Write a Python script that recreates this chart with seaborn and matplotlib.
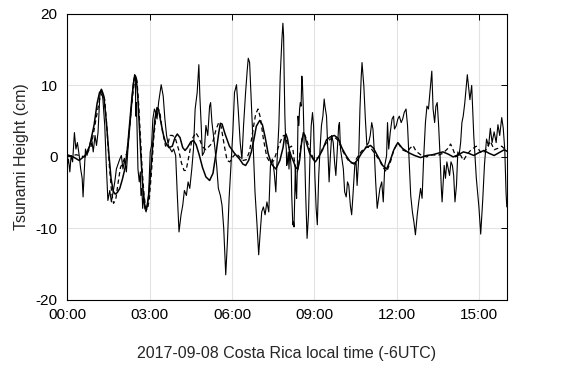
import numpy as np
import pandas as pd
import seaborn as sns
import matplotlib
matplotlib.use("Agg")
import matplotlib.pyplot as plt
from matplotlib.ticker import FuncFormatter, MultipleLocator

# observed record (read-off time in hours, cm)
obs_t = [0.0, 0.04, 0.087, 0.13, 0.18, 0.24, 0.29, 0.34, 0.40, 0.45, 0.50, 0.53, 0.58, 0.61, 0.66,
         0.72, 0.77, 0.82, 0.87, 0.93, 0.98, 1.03, 1.09, 1.14, 1.19, 1.25, 1.30, 1.35, 1.41, 1.46,
         1.51, 1.57, 1.62, 1.73, 1.78, 1.83, 1.885, 1.94, 1.99, 2.045, 2.10, 2.15, 2.20, 2.236,
         2.26, 2.29, 2.33, 2.36, 2.42, 2.47, 2.50, 2.545, 2.58, 2.63, 2.68, 2.74, 2.79, 2.84, 2.90,
         2.95, 3.00, 3.06, 3.11, 3.16, 3.22, 3.27, 3.32, 3.38, 3.43, 3.48, 3.535, 3.59, 3.64, 3.69,
         3.75, 3.80, 3.85, 3.91, 3.96, 4.01, 4.07, 4.12, 4.17, 4.23, 4.28, 4.33, 4.39, 4.44, 4.47,
         4.51, 4.545, 4.60, 4.65, 4.705, 4.76, 4.79, 4.83, 4.90, 4.97, 5.02, 5.08, 5.13, 5.18, 5.24,
         5.29, 5.34, 5.40, 5.45, 5.50, 5.56, 5.61, 5.67, 5.72, 5.77, 5.83, 5.88, 5.91, 5.95, 6.01,
         6.06, 6.11, 6.17, 6.22, 6.26, 6.31, 6.36, 6.41, 6.465, 6.52, 6.57, 6.625, 6.68, 6.73, 6.76,
         6.82, 6.86, 6.91, 6.94, 6.99, 7.03, 7.08, 7.14, 7.18, 7.21, 7.26, 7.32, 7.37, 7.42, 7.48,
         7.53, 7.565, 7.61, 7.64, 7.69, 7.725, 7.78, 7.82, 7.86, 7.91, 7.96, 8.01, 8.07, 8.12, 8.17,
         8.225, 8.28, 8.33, 8.385, 8.44, 8.49, 8.545, 8.60, 8.65, 8.705, 8.76, 8.81, 8.86, 8.90,
         8.95, 9.00, 9.045, 9.10, 9.15, 9.205, 9.26, 9.31, 9.34, 9.40, 9.44, 9.50, 9.55, 9.60, 9.66,
         9.71, 9.76, 9.82, 9.87, 9.90, 9.94, 9.995, 10.05, 10.10, 10.16, 10.21, 10.26, 10.32, 10.37,
         10.42, 10.49, 10.54, 10.58, 10.64, 10.69, 10.74, 10.77, 10.83, 10.88, 10.93, 10.99, 11.04,
         11.09, 11.13, 11.17, 11.22, 11.27, 11.36, 11.42, 11.47, 11.52, 11.58, 11.61, 11.65, 11.70,
         11.76, 11.81, 11.84, 11.90, 11.95, 12.00, 12.06, 12.11, 12.16, 12.22, 12.27, 12.32, 12.375,
         12.43, 12.48, 12.53, 12.59, 12.64, 12.70, 12.75, 12.80, 12.86, 12.91, 12.96, 13.02, 13.07,
         13.12, 13.18, 13.23, 13.28, 13.335, 13.39, 13.44, 13.47, 13.52, 13.55, 13.60, 13.655,
         13.71, 13.76, 13.815, 13.87, 13.92, 13.97, 14.03, 14.08, 14.13, 14.19, 14.24, 14.29, 14.35,
         14.45, 14.55, 14.62, 14.70, 14.80, 14.90, 14.97, 15.05, 15.12, 15.20, 15.28, 15.35, 15.42,
         15.50, 15.58, 15.65, 15.72, 15.80, 15.86, 15.92, 15.97, 16.0]
obs_h = [-1.2, -0.3, -2.1, 0.2, -0.7, 3.4, 1.1, 2.0, 0.2, -1.7, -3.0, -5.6, -1.2, 1.1, 0.2,
         1.1, 2.0, 2.5, 0.7, 3.0, 1.6, 3.4, 8.5, 9.5, 8.1, 4.4, -1.2, -6.1, -4.7, -6.3,
         -5.1, -3.5, -1.7, -0.3, 0.2, -1.7, -0.3, -2.1, 1.1, 3.9, 6.7, 9.9, 11.5, 11.3,
         5.7, 7.6, 2.0, -1.7, -3.5, -2.1, -5.4, -4.4, -7.2, -5.4, -7.2, -7.7, -6.8, -4.9, 0.7,
         1.6, 5.3, 6.7, 6.2, 5.3, 7.6, 8.8, 10.1, 8.5, 5.3, 3.0, 1.6, 1.1, 0.7, 1.1,
         0.2, -5.4, -10.5, -8.1, -6.8, -4.7, -5.4, -3.5, -4.4, -1.7, 1.1, 6.7, 9.0, 12.9, 8.5,
         4.4, 0.2, 0.7, 4.4, 3.0, 7.1, 7.6, 4.8, 2.0, -1.2, -4.4, -5.4, -6.8, -10.0, -16.5,
         -11.8, -5.8, -0.7, 3.4, 9.0, 10.1, 6.7, 2.0, -0.3, 4.4, 9.0, 12.2, 13.8, 13.2, 6.7,
         1.1, -4.9, -9.5, -13.7, -10.9, -7.7, -7.0, -8.1, -6.3, -7.7, -1.2, -0.3, -2.1, -4.9, -1.2,
         4.4, 11.3, 16.4, 18.7, 16.9, 11.3, 5.7, 2.0, 1.1, -1.2, -0.7, 0.7, -1.7, 0.7, -0.3,
         -1.7, -5.4, -8.1, -9.5, -9.1, -9.8, -5.4, -1.2, -4.4, -5.8, -1.7, 5.7, 4.4, 6.7, 7.6,
         7.1, 11.3, 9.9, 6.7, 2.0, -0.3, -4.9, -8.1, -11.4, -8.1, -0.3, 4.4, 6.2, 4.4,
         -2.6, -7.2, -9.5, -2.6, 1.1, 4.4, 5.7, 8.1, 7.1, 5.7, 2.0, -3.5, 0.2, 3.0, 2.0,
         -0.7, -2.6, 1.1, 4.4, 4.8, 1.1, -0.3, -1.7, -4.9, -5.6, -3.5, -4.0, -6.8, -8.1,
         -5.4, -1.2, -0.7, -4.0, -0.3, 6.7, 11.3, 13.2, 9.9, 5.3, 1.6, 2.0, 3.0,
         4.8, 3.9, 1.1, -3.5, -7.2, -4.4, -3.5, -6.3, -1.2, 0.2, 4.8, 1.1, 3.4,
         5.3, 5.7, 3.9, 4.4, 5.3, 5.7, 4.8, 5.3, 6.2, 6.7, 4.4, -0.3, -5.4,
         -7.7, -9.1, -10.9, -8.1, -6.3, -4.4, -5.8, -0.3, 4.8, 7.1, 6.7, 9.5, 12.0,
         6.7, 4.8, 7.1, 7.6, 4.4, 0.2, -4.4, -6.3, -3.0, -1.2, -3.0, -0.7,
         -1.7, -2.6, -0.7, -1.2, -2.6, -6.3, -3.9, 0.7, 0.2, 2.0, 4.8, 5.7, 7.5,
         11.5, 8.0, 10.0, 3.0, -3.0, -7.0, -10.8, -6.0, -1.0, 2.5, 1.5, 4.0, 2.0,
         3.5, 2.0, 4.5, 3.0, 5.5, 4.0, 1.0, -5.0, -7.0]

# model 1 (solid)
sol_t = [0.0, 0.2, 0.4, 0.6, 0.75, 0.9, 1.0, 1.08, 1.15, 1.22, 1.3, 1.38, 1.45, 1.52, 1.58, 1.65,
         1.73, 1.82, 1.9, 1.98, 2.05, 2.12, 2.18, 2.23, 2.28, 2.35, 2.42, 2.5, 2.58, 2.65, 2.71,
         2.77, 2.84, 2.92, 3.0, 3.08, 3.16, 3.22, 3.3, 3.38, 3.45, 3.55, 3.65, 3.73, 3.8, 3.88,
         3.96, 4.03, 4.1, 4.2, 4.28, 4.36, 4.45, 4.55, 4.65, 4.76, 4.86, 4.96, 5.03, 5.08, 5.13,
         5.22, 5.35, 5.5, 5.65, 5.75, 5.83, 5.92, 6.0, 6.08, 6.15, 6.25, 6.33, 6.41, 6.5, 6.6,
         6.73, 6.85, 6.95, 7.05, 7.16, 7.27, 7.4, 7.55, 7.7, 7.85, 8.0, 8.12, 8.25, 8.39, 8.5,
         8.6, 8.75, 8.9, 8.97, 9.1, 9.25, 9.4, 9.55, 9.7, 9.85, 10.0, 10.15, 10.3, 10.46, 10.6,
         10.75, 10.9, 11.05, 11.15, 11.3, 11.45, 11.58, 11.7, 11.82, 11.95, 12.1, 12.3, 12.5,
         12.7, 12.9, 13.1, 13.3, 13.5, 13.7, 13.9, 14.1, 14.3, 14.5, 14.7, 14.9, 15.1, 15.3,
         15.5, 15.7, 15.9, 16.0]
sol_h = [0.3, 0.0, -0.5, 0.2, 1.5, 4.5, 7.5, 9.0, 9.4, 8.5, 5.0, 0.5, -3.0, -4.8, -5.2, -5.0,
         -4.4, -3.0, -1.5, 1.5, 5.0, 8.5, 10.8, 11.4, 11.0, 8.5, 4.5, 0.0, -4.0, -6.3, -7.2,
         -7.0, -5.5, -2.0, 2.0, 5.3, 6.9, 6.6, 5.0, 3.2, 2.0, 1.3, 1.5, 2.7, 3.2, 2.7,
         1.3, 0.9, 1.3, 2.1, 2.3, 1.7, 0.3, -1.5, -2.8, -3.3, -2.3, 0.8, 3.3, 4.7, 4.6,
         3.2, 1.5, 0.5, -0.3, -1.0, -1.2, -0.5, 0.7, 2.5, 4.3, 5.1, 4.5, 2.8, 0.5, -1.0,
         -1.7, -0.5, 1.3, 2.7, 3.2, 2.5, 0.9, 0.0, -0.7, -1.5, -1.7, -0.5, 1.8, 3.4, 3.0,
         2.0, 0.5, -0.4, -0.7, 0.0, 1.0, 2.4, 2.8, 3.0, 2.6, 1.2, 0.2, -0.6, -1.0, -0.4,
         0.5, 1.3, 1.6, 1.2, 0.0, -1.2, -1.7, -0.5, 1.0, 2.0, 1.2, 0.6, 0.2,
         -0.1, 0.2, 0.3, 0.5, 0.7, 0.4, 0.0, 0.3, 0.7, 0.5, 0.2, 0.6, 0.9, 0.5,
         0.2, 0.6, 1.0, 0.8]

# model 2 (dashed)
dsh_t = [0.0, 0.3, 0.6, 0.8, 0.95, 1.08, 1.18, 1.25, 1.32, 1.4, 1.47, 1.53, 1.6, 1.68, 1.75, 1.85,
         1.95, 2.02, 2.1, 2.18, 2.26, 2.32, 2.4, 2.48, 2.56, 2.65, 2.73, 2.79, 2.86, 2.95, 3.03,
         3.12, 3.2, 3.27, 3.36, 3.45, 3.52, 3.58, 3.66, 3.74, 3.84, 3.92, 4.0, 4.06, 4.14, 4.24,
         4.35, 4.45, 4.55, 4.65, 4.75, 4.85, 4.95, 5.03, 5.1, 5.2, 5.28, 5.36, 5.45, 5.55, 5.65,
         5.75, 5.85, 5.95, 6.04, 6.13, 6.2, 6.27, 6.36, 6.46, 6.57, 6.67, 6.8, 6.92, 7.0, 7.12,
         7.25, 7.4, 7.55, 7.65, 7.75, 7.87, 7.96, 8.05, 8.17, 8.3, 8.45, 8.6, 8.75, 8.9, 8.98,
         9.1, 9.25, 9.4, 9.55, 9.7, 9.85, 10.0, 10.15, 10.3, 10.45, 10.6, 10.75, 10.9, 11.05,
         11.2, 11.35, 11.45, 11.58, 11.7, 11.82, 11.95, 12.1, 12.25, 12.35, 12.45, 12.55, 12.7,
         12.9, 13.1, 13.3, 13.5, 13.7, 13.8, 13.9, 14.0, 14.15, 14.3, 14.45, 14.6, 14.8, 15.0,
         15.15, 15.35, 15.5, 15.65, 15.8, 16.0]
dsh_h = [0.0, 0.3, 0.0, 1.5, 5.0, 8.0, 9.0, 8.0, 4.0, -1.5, -5.0, -6.5, -6.0, -3.5, -1.5, -0.5,
         0.5, 3.0, 7.0, 10.0, 11.3, 10.5, 7.0, 2.5, -2.0, -5.5, -7.2, -7.4, -6.0, -2.0, 2.5,
         5.8, 6.8, 6.2, 3.5, 1.5, 1.8, 3.0, 3.0, 2.6, 1.0, -0.8, -1.9, -1.9, 0.0, 2.5,
         3.4, 2.6, 1.4, 1.0, 1.5, 2.0, 3.8, 4.8, 4.3, 1.5, -0.5, -0.7, 0.0, 0.5, 0.0,
         -0.5, -0.4, 0.8, 3.5, 6.0, 6.7, 5.5, 2.5, 0.0, -0.9, -0.5, 1.3, 2.8, 3.0, 3.0,
         1.8, 1.3, 1.5, 1.0, -0.5, -1.8, -2.1, -1.2, 1.0, 2.7, 3.1, 2.6, 1.0, -0.3, -0.3,
         0.0, 1.2, 2.0, 2.5, 2.8, 2.3, 1.0, 0.0, -0.8, -0.9, 0.0, 0.8, 1.4, 1.3,
         0.4, -0.5, -1.4, -2.1, -0.8, 1.0, 2.0, 1.0, 0.7, 1.2, 1.6, 0.8, 0.3,
         0.0, 0.3, 0.2, 0.5, 1.2, 1.8, 1.0, 0.0, 0.5, -0.5, 0.4, 1.0, 1.5, 0.5,
         0.8, 2.2, 1.0, 1.2, 1.5, 0.8]

# my read-off times drift against the clock ticks; matched landmarks (read time -> clock time)
read_marks = [0.0, 1.14, 2.2, 2.74, 3.32, 6.94, 8.65, 10.77, 13.07, 14.97, 16.0]
clock_marks = [0.0, 1.24, 2.45, 2.87, 3.42, 7.85, 8.73, 10.73, 13.27, 15.05, 16.0]

def to_clock(t):
    return np.interp(t, read_marks, clock_marks)

obs = pd.DataFrame({"t": to_clock(obs_t), "h": obs_h})
sol = pd.DataFrame({"t": to_clock(sol_t), "h": sol_h})
dsh = pd.DataFrame({"t": to_clock(dsh_t), "h": dsh_h})

sns.set_style("white")
plt.rcParams["font.family"] = ["Liberation Sans", "DejaVu Sans"]

fig = plt.figure(figsize=(5.65, 3.67), dpi=100)
ax = fig.add_axes([0.119, 0.183, 0.778, 0.779])

sns.lineplot(data=obs, x="t", y="h", ax=ax, color="black", lw=0.8, sort=False, estimator=None)
sns.lineplot(data=sol, x="t", y="h", ax=ax, color="black", lw=1.1, sort=False, estimator=None)
sns.lineplot(data=dsh, x="t", y="h", ax=ax, color="black", lw=0.9, sort=False, estimator=None,
             linestyle=(0, (3.5, 2.5)))

ax.set_xlim(0, 16)
ax.set_ylim(-20, 20)
ax.xaxis.set_major_locator(MultipleLocator(3))
ax.yaxis.set_major_locator(MultipleLocator(10))
ax.xaxis.set_major_formatter(FuncFormatter(lambda x, pos: f"{int(x):02d}:00"))
ax.yaxis.set_major_formatter(FuncFormatter(lambda y, pos: f"{int(y)}"))
ax.grid(True, color="#e3e3e3", lw=0.8)
for s in ax.spines.values():
    s.set_visible(True)
    s.set_color("black")
    s.set_linewidth(0.8)
ax.tick_params(direction="in", length=4, width=0.7, top=True, right=True,
               labelsize=11, colors="black")
ax.tick_params(axis="x", pad=6)
ax.tick_params(axis="y", pad=7)
ax.set_xlabel("2017-09-08 Costa Rica local time (-6UTC)", fontsize=11.5, labelpad=17)
ax.set_ylabel("Tsunami Height (cm)", fontsize=11.5, labelpad=5)

fig.savefig("out.png", dpi=100)
